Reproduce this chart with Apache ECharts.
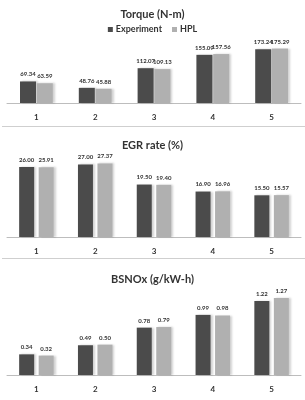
<!DOCTYPE html>
<html>
<head>
<meta charset="utf-8">
<script src="https://cdn.jsdelivr.net/npm/echarts@6/dist/echarts.min.js"></script>
<style>
  html, body { margin: 0; padding: 0; background: #fff; }
  #chart { width: 305px; height: 400px; }
</style>
</head>
<body>
<div id="chart"></div>
<script>
// 工况编号
const cases = ['1', '2', '3', '4', '5'];

// 扭矩 (N-m)
const torqueExp = [69.34, 48.76, 112.07, 155.09, 173.24];
const torqueHpl = [63.59, 45.88, 109.13, 157.56, 175.29];

// EGR率 (%)
const egrExp = [26.00, 27.00, 19.50, 16.90, 15.50];
const egrHpl = [25.91, 27.37, 19.40, 16.96, 15.57];

// BSNOx (g/kW-h)
const noxExp = [0.34, 0.49, 0.78, 0.99, 1.22];
const noxHpl = [0.32, 0.50, 0.79, 0.98, 1.27];

const titles = ['Torque (N-m)', 'EGR rate (%)', 'BSNOx (g/kW-h)'];

const FONT = 'Lato, "Open Sans", sans-serif';
const DARK = '#4b4b4b';
const LIGHT = '#b0b0b0';

// 每个面板的布局
const panels = [
    { top: 44, bottom: 297, max: 190, titleTop: 4, barWidth: 16, barGap: '5%' },
    { top: 159, bottom: 163, max: 29, titleTop: 135, barWidth: 15, barGap: '30%' },
    { top: 290, bottom: 25, max: 1.4, titleTop: 269, barWidth: 15, barGap: '30%' }
];

const seriesData = [[torqueExp, torqueHpl], [egrExp, egrHpl], [noxExp, noxHpl]];

function makeSeries(name, data, idx, color, p) {
    return {
        name: name,
        type: 'bar',
        xAxisIndex: idx,
        yAxisIndex: idx,
        data: data,
        barWidth: p.barWidth,
        barGap: p.barGap,
        itemStyle: {
            color: color,
            shadowColor: 'rgba(0,0,0,0.18)',
            shadowBlur: 2,
            shadowOffsetX: 2,
            shadowOffsetY: 0
        },
        label: {
            show: true,
            position: 'top',
            distance: 4,
            fontFamily: FONT,
            fontSize: 6,
            fontWeight: 'bold',
            color: '#333',
            formatter: p => p.value.toFixed(2)
        },
        emphasis: { disabled: true }
    };
}

const chart = echarts.init(document.getElementById('chart'));

const option = {
    backgroundColor: '#fff',
    animation: false,
    title: panels.map((p, i) => ({
        text: titles[i],
        left: 'center',
        top: p.titleTop,
        textStyle: { fontFamily: FONT, fontSize: 11, fontWeight: 'bold', color: '#333' }
    })),
    legend: {
        top: 20,
        left: 'center',
        itemWidth: 5,
        itemHeight: 5,
        itemGap: 10,
        icon: 'rect',
        textStyle: { fontFamily: FONT, fontSize: 9, fontWeight: 'bold', color: '#333', padding: [0, 0, 0, -2] },
        data: ['Experiment', 'HPL']
    },
    grid: panels.map(p => ({ left: 7, right: 4, top: p.top, bottom: p.bottom })),
    xAxis: panels.map((p, i) => ({
        type: 'category',
        gridIndex: i,
        data: cases,
        axisLine: { lineStyle: { color: '#bdbdbd', width: 1 } },
        axisTick: { show: false },
        axisLabel: { margin: 10, fontFamily: FONT, fontSize: 8, fontWeight: 'bold', color: '#333' }
    })),
    yAxis: panels.map((p, i) => ({
        type: 'value',
        gridIndex: i,
        min: 0,
        max: p.max,
        show: false,
        splitLine: { show: false }
    })),
    graphic: [
        { type: 'line', shape: { x1: 2, y1: 126.5, x2: 305, y2: 126.5 }, style: { stroke: '#cfcfcf', lineWidth: 1 } },
        { type: 'line', shape: { x1: 2, y1: 258.5, x2: 305, y2: 258.5 }, style: { stroke: '#cfcfcf', lineWidth: 1 } }
    ],
    series: []
};

panels.forEach((p, i) => {
    option.series.push(makeSeries('Experiment', seriesData[i][0], i, DARK, p));
    option.series.push(makeSeries('HPL', seriesData[i][1], i, LIGHT, p));
});

chart.setOption(option);
</script>
</body>
</html>
